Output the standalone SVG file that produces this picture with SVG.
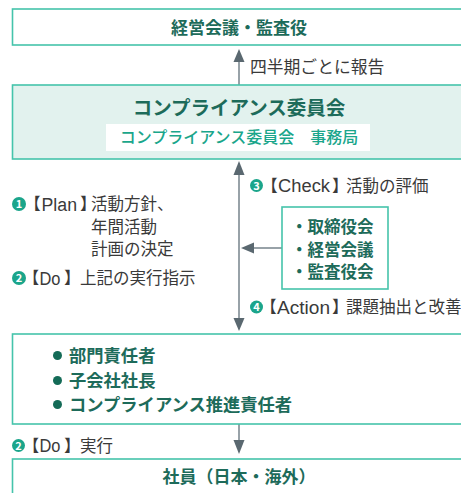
<svg xmlns="http://www.w3.org/2000/svg" width="461" height="493" viewBox="0 0 461 493">
<defs>
<style>
text{font-family:"Noto Sans CJK JP","Noto Sans",sans-serif}
.box{fill:#ffffff;stroke:#45c4ab;stroke-width:1.6}
.boxf{fill:#e2f2ee;stroke:#45c4ab;stroke-width:1.6}
.t1{fill:#1d6b5a;font-weight:700}
.t2{fill:#1aa68b;font-weight:500}
.g{fill:#3a3a3a;font-size:16.5px}
.br{font-feature-settings:"halt" 1}
.lat{fill:#3a3a3a;font-family:"Liberation Sans",Arial,sans-serif;font-size:18px}
.ln{stroke:#98a2a8;stroke-width:2;fill:none}
.hd{fill:#5a6870}
.nc{fill:#1ba58b}
.nt{fill:#ffffff;font-size:11px;font-weight:700;text-anchor:middle}
.bul{fill:#146b57}
</style>
</defs>
<rect width="461" height="493" fill="#ffffff"/>
<g id="connectors">
<line class="ln" x1="239" y1="85" x2="239" y2="60"/>
<polygon class="hd" points="239,49 233.5,62 244.5,62"/>
<line class="ln" x1="239" y1="172" x2="239" y2="320"/>
<polygon class="hd" points="239,161 233.5,175 244.5,175"/>
<polygon class="hd" points="239,331 233.5,318 244.5,318"/>
<line class="ln" x1="282" y1="248" x2="251" y2="248"/>
<polygon class="hd" points="241,248 254,242.5 254,253.5"/>
<line class="ln" x1="239" y1="424" x2="239" y2="442"/>
<polygon class="hd" points="239,454 233.5,440 244.5,440"/>
</g>
<g id="node-top">
<rect class="box" x="12.5" y="9" width="460" height="36"/>
<text class="t1" x="239" y="33.5" font-size="17" text-anchor="middle">経営会議・監査役</text>
</g>
<g id="label-report">
<text class="g" x="250" y="73" style="font-size:16.8px">四半期ごとに報告</text>
</g>
<g id="node-committee">
<rect class="boxf" x="12.5" y="85" width="460" height="74"/>
<text class="t1" x="239" y="114.5" font-size="19.5" text-anchor="middle">コンプライアンス委員会</text>
<rect x="106" y="124" width="264" height="27" fill="#ffffff"/>
<text class="t2" x="239" y="143" font-size="16" text-anchor="middle">コンプライアンス委員会　事務局</text>
</g>
<g id="label-plan">
<circle class="nc" cx="19" cy="204" r="7"/>
<text class="nt" x="19" y="208">1</text>
<text class="g br" x="32.5" y="210">【</text>
<text class="lat" x="41.5" y="210.5" textLength="35.5" lengthAdjust="spacingAndGlyphs">Plan</text>
<text class="g br" x="80" y="210">】</text>
<text class="g" x="91" y="210">活動方針、</text>
<text class="g" x="91" y="233">年間活動</text>
<text class="g" x="91" y="255">計画の決定</text>
</g>
<g id="label-do1">
<circle class="nc" cx="19" cy="278" r="7"/>
<text class="nt" x="19" y="282">2</text>
<text class="g br" x="31" y="284">【</text>
<text class="lat" x="39.5" y="284.5" textLength="21" lengthAdjust="spacingAndGlyphs">Do</text>
<text class="g br" x="64" y="284">】</text>
<text class="g" x="80" y="284">上記の実行指示</text>
</g>
<g id="label-check">
<circle class="nc" cx="256.5" cy="185.5" r="6.5"/>
<text class="nt" x="256.5" y="189.5">3</text>
<text class="g br" x="269.5" y="191.5">【</text>
<text class="lat" x="278" y="192" textLength="52" lengthAdjust="spacingAndGlyphs">Check</text>
<text class="g br" x="332" y="191.5">】</text>
<text class="g" x="346" y="191.5">活動の評価</text>
</g>
<g id="node-board">
<rect class="box" x="282" y="207" width="106" height="82"/>
<text class="t1" x="291" y="233" font-size="16.5">・取締役会</text>
<text class="t1" x="291" y="255.5" font-size="16.5">・経営会議</text>
<text class="t1" x="291" y="278" font-size="16.5">・監査役会</text>
</g>
<g id="label-action">
<circle class="nc" cx="256.5" cy="307" r="6.5"/>
<text class="nt" x="256.5" y="311">4</text>
<text class="g br" x="268.5" y="313">【</text>
<text class="lat" x="277" y="313.5" textLength="53" lengthAdjust="spacingAndGlyphs">Action</text>
<text class="g br" x="332" y="313">】</text>
<text class="g" x="346" y="313">課題抽出と改善</text>
</g>
<g id="node-managers">
<rect class="box" x="12.5" y="334" width="460" height="90"/>
<circle class="bul" cx="57.5" cy="355.5" r="4.5"/>
<text class="t1" x="69" y="361.5" font-size="17.3">部門責任者</text>
<circle class="bul" cx="57.5" cy="380.5" r="4.5"/>
<text class="t1" x="69" y="386.5" font-size="17.3">子会社社長</text>
<circle class="bul" cx="57.5" cy="404.5" r="4.5"/>
<text class="t1" x="69" y="410.5" font-size="17.3">コンプライアンス推進責任者</text>
</g>
<g id="label-do2">
<circle class="nc" cx="18.5" cy="445.5" r="6.5"/>
<text class="nt" x="18.5" y="449.5">2</text>
<text class="g br" x="31" y="451.5">【</text>
<text class="lat" x="39.5" y="452" textLength="21" lengthAdjust="spacingAndGlyphs">Do</text>
<text class="g br" x="64" y="451.5">】</text>
<text class="g" x="80" y="451.5">実行</text>
</g>
<g id="node-employees">
<rect class="box" x="12.5" y="459" width="460" height="50"/>
<text class="t1" x="239" y="483" font-size="17" text-anchor="middle">社員（日本・海外）</text>
</g>
</svg>
